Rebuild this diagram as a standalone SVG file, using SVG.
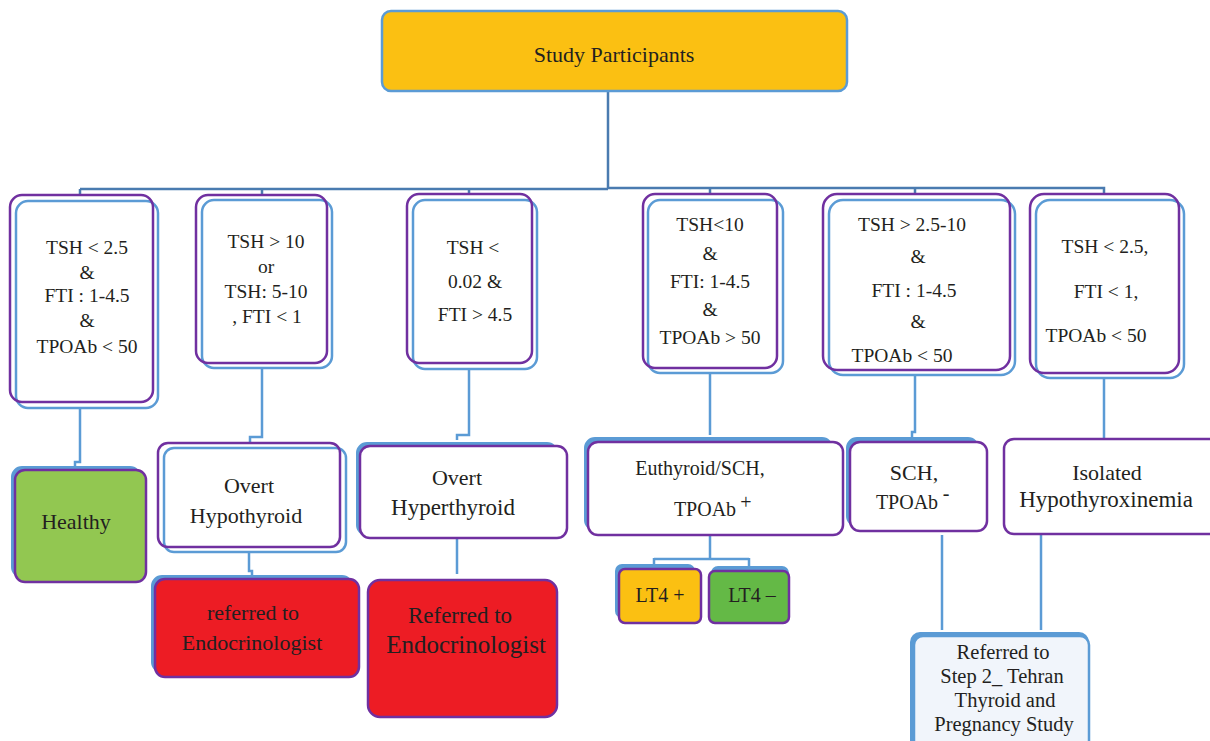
<svg xmlns="http://www.w3.org/2000/svg" width="1210" height="741" viewBox="0 0 1210 741">
<style>
text{font-family:"Liberation Serif","Times New Roman",serif;font-size:20px;fill:#231F20;text-anchor:middle}
.s19{font-size:19.5px}
.s21{font-size:20.5px}
.s22{font-size:22px}
.s23{font-size:23px}
.s25{font-size:25px}
.pur{fill:none;stroke:#7030A0;stroke-width:2.5}
.blu{fill:#fff;stroke:#5B9BD5;stroke-width:2.5}
.shd{fill:#5B9BD5;stroke:#5B9BD5;stroke-width:2}
.bus{fill:none;stroke:#4A7BB0;stroke-width:2.5}
.con{fill:none;stroke:#5B9BD5;stroke-width:2.5}
</style>
<rect width="1210" height="741" fill="#fff"/>
<g id="connectors">
<path class="bus" d="M608,91 V189 M80,189 H608 M608,188 H1104 V194 M80,189 V195 M262,189 V195 M469,189 V195 M710,188 V194 M915,188 V194"/>
<path class="con" d="M80,408 V462 H75 V466"/>
<path class="con" d="M262,369 V437 H250 V443"/>
<path class="con" d="M249,553 V571 H252 V576"/>
<path class="con" d="M469,369 V435 H457 V440"/>
<path class="con" d="M457,539 V574"/>
<path class="con" d="M710,373 V435"/>
<path class="con" d="M710,535 V559 M654,559 H749 M654,558 V565 M749,558 V566"/>
<path class="con" d="M915,375 V432 H912 V437"/>
<path class="con" d="M1104,378 V439"/>
<path class="con" d="M942,535 V630"/>
<path class="con" d="M1041,535 V630"/>
</g>
<g id="study-participants">
<rect x="382" y="11" width="465" height="80" rx="9" fill="#FBC012" stroke="#5B9BD5" stroke-width="2.5"/>
<text class="s22" x="614" y="62">Study Participants</text>
</g>
<g id="crit-healthy">
<rect class="blu" x="16" y="201" width="142" height="207" rx="12"/>
<rect class="pur" x="10" y="195" width="143" height="207" rx="12"/>
<text class="s19" x="87" y="254">TSH &lt;  2.5</text>
<text class="s19" x="87" y="279">&amp;</text>
<text class="s19" x="87" y="302">FTI : 1-4.5</text>
<text class="s19" x="87" y="327">&amp;</text>
<text class="s19" x="87" y="353">TPOAb &lt; 50</text>
</g>
<g id="crit-hypo">
<rect class="blu" x="202" y="200" width="130" height="168" rx="12"/>
<rect class="pur" x="196" y="195" width="131" height="168" rx="12"/>
<text class="s19" x="266" y="248">TSH &gt; 10</text>
<text class="s19" x="266" y="273">or</text>
<text class="s19" x="266" y="298">TSH: 5-10</text>
<text class="s19" x="267" y="323">, FTI &lt; 1</text>
</g>
<g id="crit-hyper">
<rect class="blu" x="413" y="200" width="124" height="169" rx="12"/>
<rect class="pur" x="407" y="194" width="125" height="169" rx="12"/>
<text class="s19" x="473" y="254">TSH &lt;</text>
<text class="s19" x="475" y="288">0.02 &amp;</text>
<text class="s19" x="475" y="321">FTI &gt; 4.5</text>
</g>
<g id="crit-euthyroid">
<rect class="blu" x="648" y="200" width="135" height="173" rx="12"/>
<rect class="pur" x="643" y="194" width="134" height="174" rx="12"/>
<text class="s19" x="710" y="231">TSH&lt;10</text>
<text class="s19" x="710" y="260">&amp;</text>
<text class="s19" x="710" y="288">FTI: 1-4.5</text>
<text class="s19" x="710" y="316">&amp;</text>
<text class="s19" x="710" y="344">TPOAb &gt; 50</text>
</g>
<g id="crit-sch">
<rect class="blu" x="829" y="200" width="186" height="175" rx="14"/>
<rect class="pur" x="823" y="194" width="187" height="176" rx="14"/>
<text class="s19" x="912" y="231">TSH &gt; 2.5-10</text>
<text class="s19" x="918" y="263">&amp;</text>
<text class="s19" x="914" y="297">FTI : 1-4.5</text>
<text class="s19" x="918" y="328">&amp;</text>
<text class="s19" x="902" y="362">TPOAb &lt; 50</text>
</g>
<g id="crit-isolated">
<rect class="blu" x="1036" y="200" width="148" height="178" rx="14"/>
<rect class="pur" x="1030" y="194" width="149" height="179" rx="14"/>
<text class="s19" x="1105" y="253">TSH &lt; 2.5,</text>
<text class="s19" x="1106" y="298">FTI &lt; 1,</text>
<text class="s19" x="1096" y="342">TPOAb &lt; 50</text>
</g>
<g id="healthy">
<rect class="shd" x="12" y="467" width="128" height="110" rx="10"/>
<rect x="15" y="470" width="131" height="112" rx="10" fill="#92C751" stroke="#7030A0" stroke-width="2.5"/>
<text class="s22" x="76" y="529">Healthy</text>
</g>
<g id="overt-hypothyroid">
<rect class="blu" x="164" y="448" width="182" height="104" rx="10"/>
<rect class="pur" x="158" y="443" width="182" height="104" rx="10"/>
<text class="s22" x="249" y="493">Overt</text>
<text class="s22" x="246" y="523">Hypothyroid</text>
</g>
<g id="referred-endo-1">
<rect class="shd" x="152" y="576" width="200" height="96" rx="10"/>
<rect x="155" y="579" width="204" height="98" rx="10" fill="#ED1C24" stroke="#7030A0" stroke-width="2.5"/>
<text class="s22" x="253" y="620">referred to</text>
<text class="s22" x="252" y="650">Endocrinologist</text>
</g>
<g id="overt-hyperthyroid">
<rect class="shd" x="357" y="443" width="200" height="92" rx="10"/>
<rect x="360" y="446" width="207" height="92" rx="10" fill="#fff" stroke="#7030A0" stroke-width="2.5"/>
<text class="s22" x="457" y="485">Overt</text>
<text class="s23" x="453" y="515">Hyperthyroid</text>
</g>
<g id="referred-endo-2">
<rect x="368" y="580" width="189" height="137" rx="12" fill="#ED1C24" stroke="#7030A0" stroke-width="2.5"/>
<text class="s23" x="460" y="623">Referred to</text>
<text class="s25" x="466" y="653">Endocrinologist</text>
</g>
<g id="euthyroid-sch">
<rect class="shd" x="585" y="438" width="247" height="92" rx="10"/>
<rect x="588" y="442" width="255" height="93" rx="10" fill="#fff" stroke="#7030A0" stroke-width="2.5"/>
<text x="700" y="475">Euthyroid/SCH,</text>
<text x="705" y="516">TPOAb</text>
<text x="746" y="509" font-size="16">+</text>
</g>
<g id="lt4-plus">
<rect class="shd" x="616" y="565" width="78" height="52" rx="6"/>
<rect x="619" y="569" width="82" height="54" rx="6" fill="#FBC012" stroke="#7030A0" stroke-width="2.5"/>
<text x="660" y="602">LT4 +</text>
</g>
<g id="lt4-minus">
<rect class="shd" x="712" y="567" width="76" height="50" rx="6"/>
<rect x="709" y="571" width="80" height="52" rx="6" fill="#64B946" stroke="#7030A0" stroke-width="2.5"/>
<text x="752" y="602">LT4 –</text>
</g>
<g id="sch-tpoab-neg">
<rect class="shd" x="847" y="438" width="131" height="88" rx="10"/>
<rect x="850" y="442" width="137" height="89" rx="10" fill="#fff" stroke="#7030A0" stroke-width="2.5"/>
<text class="s22" x="914" y="480">SCH,</text>
<text x="907" y="509">TPOAb</text>
<text x="946" y="500" font-size="16">-</text>
</g>
<g id="isolated-hypothyroxinemia">
<rect x="1004" y="439" width="220" height="95" rx="10" fill="#fff" stroke="#7030A0" stroke-width="2.5"/>
<text class="s22" x="1107" y="480">Isolated</text>
<text class="s23" x="1106" y="507">Hypothyroxinemia</text>
</g>
<g id="referred-step2">
<rect x="910" y="632" width="179" height="125" rx="10" fill="#5B9BD5"/>
<rect x="914" y="636" width="175" height="121" rx="9" fill="#F1F5FB" stroke="#5B9BD5" stroke-width="2.5"/>
<text class="s21" x="1003" y="659">Referred to</text>
<text class="s21" x="1002" y="683">Step 2_ Tehran</text>
<text class="s21" x="1005" y="707">Thyroid and</text>
<text class="s21" x="1004" y="731">Pregnancy Study</text>
</g>
</svg>
